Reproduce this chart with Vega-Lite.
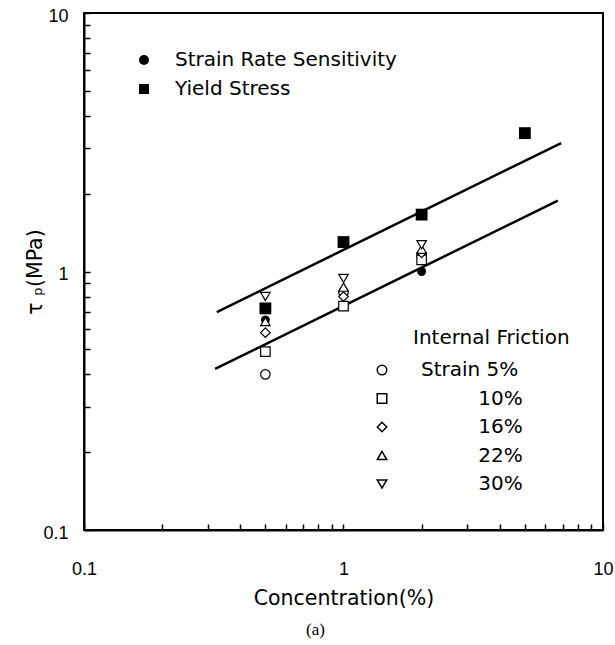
{
  "$schema": "https://vega.github.io/schema/vega-lite/v6.json",
  "width": 519,
  "height": 517,
  "autosize": {"type": "none"},
  "padding": {"left": 84, "top": 13, "right": 12, "bottom": 115},
  "background": "white",
  "config": {
    "view": {"stroke": "black", "strokeWidth": 2},
    "axis": {
      "labelFont": "Liberation Sans", "labelFontSize": 18, "labelColor": "black",
      "tickColor": "black", "tickWidth": 1.5, "domainColor": "black", "domainWidth": 2,
      "labelFlush": false, "labelOverlap": false, "grid": false, "offset": 0,
      "titleFont": "DejaVu Sans", "titleFontSize": 20.5, "titleFontWeight": "normal", "titleColor": "black"
    },
    "legend": {"labelFont": "DejaVu Sans", "labelFontSize": 20, "labelColor": "black", "padding": 0, "labelLimit": 400}
  },
  "title": {"text": "(a)", "orient": "bottom", "font": "Liberation Serif", "fontSize": 17, "fontWeight": "normal", "color": "black", "offset": 13, "dx": -28},
  "datasets": {
    "lines": [
      {"fit": "upper", "c": 0.325, "tau": 0.697},
      {"fit": "upper", "c": 6.9, "tau": 3.14},
      {"fit": "lower", "c": 0.32, "tau": 0.42},
      {"fit": "lower", "c": 6.7, "tau": 1.88}
    ],
    "filled": [
      {"c": 0.5, "tau": 0.65, "series": "Strain Rate Sensitivity"},
      {"c": 1, "tau": 0.84, "series": "Strain Rate Sensitivity"},
      {"c": 2, "tau": 1.0, "series": "Strain Rate Sensitivity"},
      {"c": 0.5, "tau": 0.72, "series": "Yield Stress"},
      {"c": 1, "tau": 1.30, "series": "Yield Stress"},
      {"c": 2, "tau": 1.66, "series": "Yield Stress"},
      {"c": 5, "tau": 3.43, "series": "Yield Stress"}
    ],
    "open": [
      {"c": 0.5, "tau": 0.40, "strain": "5%"},
      {"c": 1, "tau": 0.83, "strain": "5%"},
      {"c": 2, "tau": 1.15, "strain": "5%"},
      {"c": 0.5, "tau": 0.49, "strain": "10%"},
      {"c": 1, "tau": 0.735, "strain": "10%"},
      {"c": 2, "tau": 1.11, "strain": "10%"},
      {"c": 0.5, "tau": 0.58, "strain": "16%"},
      {"c": 1, "tau": 0.80, "strain": "16%"},
      {"c": 2, "tau": 1.18, "strain": "16%"},
      {"c": 0.5, "tau": 0.64, "strain": "22%"},
      {"c": 1, "tau": 0.87, "strain": "22%"},
      {"c": 2, "tau": 1.22, "strain": "22%"},
      {"c": 0.5, "tau": 0.80, "strain": "30%"},
      {"c": 1, "tau": 0.94, "strain": "30%"},
      {"c": 2, "tau": 1.27, "strain": "30%"}
    ]
  },
  "layer": [
    {
      "data": {"name": "lines"},
      "mark": {"type": "line", "color": "black", "strokeWidth": 2.5},
      "encoding": {
        "x": {"field": "c", "type": "quantitative", "scale": {"type": "log", "domain": [0.1, 10]},
          "axis": {"orient": "bottom", "values": [0.1, 0.2, 0.3, 0.4, 0.5, 0.6, 0.7, 0.8, 0.9, 1, 2, 3, 4, 5, 6, 7, 8, 9, 10], "tickSize": -6, "labelPadding": 36,
            "labelExpr": "datum.value == 0.1 ? '0.1' : datum.value == 1 ? '1' : datum.value == 10 ? '10' : ''",
            "title": "Concentration(%)", "titlePadding": 10}},
        "y": {"field": "tau", "type": "quantitative", "scale": {"type": "log", "domain": [0.1, 10]},
          "axis": {"orient": "left", "values": [0.1, 0.2, 0.3, 0.4, 0.5, 0.6, 0.7, 0.8, 0.9, 1, 2, 3, 4, 5, 6, 7, 8, 9, 10], "tickSize": -6, "labelPadding": 22, "labelOffset": 3,
            "labelExpr": "datum.value == 0.1 ? '0.1' : datum.value == 1 ? '1' : datum.value == 10 ? '10' : ''",
            "title": "τ ₚ(MPa)", "titlePadding": -3}},
        "detail": {"field": "fit"}
      }
    },
    {
      "data": {"name": "filled"},
      "mark": {"type": "point", "filled": true, "color": "black", "opacity": 1},
      "encoding": {
        "x": {"field": "c", "type": "quantitative"},
        "y": {"field": "tau", "type": "quantitative"},
        "shape": {"field": "series", "type": "nominal",
          "scale": {"domain": ["Strain Rate Sensitivity", "Yield Stress"], "range": ["circle", "square"]},
          "legend": {"title": null, "orient": "none", "legendX": 50, "legendY": 37,
            "labelOffset": 21, "rowPadding": 9,
            "encode": {"symbols": {
              "fill": {"value": "black"}, "stroke": {"value": "black"}, "strokeWidth": {"value": 0},
              "size": {"condition": {"test": "datum.value == 'Yield Stress'", "value": 130}, "value": 80}}}}},
        "size": {"condition": {"test": "datum.series == 'Yield Stress'", "value": 140}, "value": 80}
      }
    },
    {
      "data": {"name": "open"},
      "mark": {"type": "point", "filled": true, "fill": "white", "stroke": "black", "strokeWidth": 1.2, "size": 90, "opacity": 1},
      "encoding": {
        "x": {"field": "c", "type": "quantitative"},
        "y": {"field": "tau", "type": "quantitative"},
        "shape": {"field": "strain", "type": "nominal",
          "scale": {"domain": ["5%", "10%", "16%", "22%", "30%"], "range": ["circle", "square", "diamond", "triangle-up", "triangle-down"]},
          "legend": {"title": "Internal Friction", "orient": "none", "legendX": 329, "legendY": 315,
            "titleFont": "DejaVu Sans", "titleFontSize": 20, "titleFontWeight": "normal", "titleColor": "black", "titlePadding": 12,
            "labelExpr": "datum.label == '5%' ? 'Strain 5%' : '\u200b\u00a0\u00a0\u00a0\u00a0\u00a0\u00a0\u00a0\u00a0\u00a0' + datum.label",
            "symbolSize": 90, "symbolOffset": -41, "labelOffset": 29, "rowPadding": 8.5,
            "encode": {
              "symbols": {"fill": {"value": "white"}, "stroke": {"value": "black"}, "strokeWidth": {"value": 1.2}}
            }}}
      }
    }
  ],
  "resolve": {"scale": {"shape": "independent"}}
}
